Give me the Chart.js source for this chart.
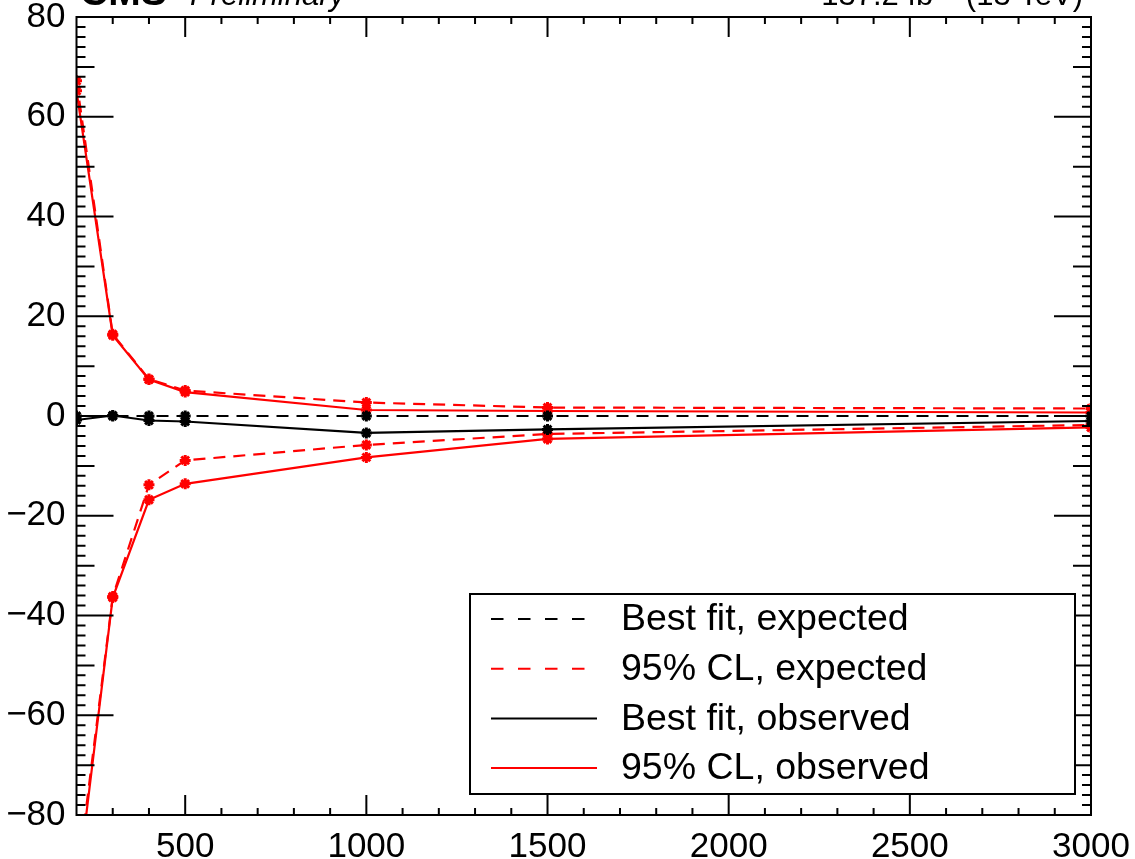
<!DOCTYPE html>
<html>
<head>
<meta charset="utf-8">
<script src="https://cdn.jsdelivr.net/npm/chart.js@4.4.1/dist/chart.umd.min.js"></script>
<style>
  html, body { margin: 0; padding: 0; background: #fff; }
  #wrap { width: 1135px; height: 859px; }
</style>
</head>
<body>
<div id="wrap"><canvas id="limitChart"></canvas></div>
<script>
// mass points (x) and the curves
const masses = [200, 300, 400, 500, 1000, 1500, 3000];
const bestFitExp = [0, 0, 0, 0, 0, 0, 0];
const clExpUp = [67.2, 16.4, 7.4, 5.1, 2.7, 1.7, 1.5];
const clExpDown = [-94, -36.2, -13.8, -8.9, -5.8, -3.6, -1.8];
const bestFitObs = [-0.8, 0.1, -0.9, -1.1, -3.4, -2.7, -1.0];
const clObsUp = [65.2, 16.2, 7.3, 4.8, 1.2, 1.0, 0.7];
const clObsDown = [-96, -36.4, -16.8, -13.6, -8.3, -4.6, -2.3];

const xTicks = [500, 1000, 1500, 2000, 2500, 3000];
const yTicks = [-80, -60, -40, -20, 0, 20, 40, 60, 80];

const FONT = '"Liberation Sans", Arial, sans-serif';
const DASH = [12, 8];
const LEGEND_DASH = [12.5, 14.5];

function pts(ys) {
  return masses.map((m, i) => ({ x: m, y: ys[i] }));
}

function series(label, ys, color, dashed, inLegend) {
  return {
    label: label,
    data: pts(ys),
    borderColor: color,
    backgroundColor: color,
    borderWidth: 2.2,
    borderDash: dashed ? DASH : [],
    pointStyle: 'star',
    pointRadius: 5.5,
    pointBorderWidth: 3,
    pointBorderColor: color,
    tension: 0,
    fill: false,
    inLegend: inLegend
  };
}

// frame + ROOT style inward ticks on all four sides
const frameTicks = {
  id: 'frameTicks',
  afterDatasetsDraw(chart) {
    const { ctx, chartArea: a, scales: { x, y } } = chart;
    ctx.save();
    ctx.strokeStyle = '#000';
    ctx.lineWidth = 2;
    ctx.beginPath();
    for (let v = 300; v < 3000; v += 100) {
      const px = x.getPixelForValue(v);
      const len = v % 500 === 0 ? 20 : 7;
      ctx.moveTo(px, a.bottom); ctx.lineTo(px, a.bottom - len);
      ctx.moveTo(px, a.top); ctx.lineTo(px, a.top + len);
    }
    for (let v = -78; v < 80; v += 2) {
      const py = y.getPixelForValue(v);
      const len = v % 20 === 0 ? 37 : (v % 10 === 0 ? 18 : 9);
      ctx.moveTo(a.left, py); ctx.lineTo(a.left + len, py);
      ctx.moveTo(a.right, py); ctx.lineTo(a.right - len, py);
    }
    ctx.stroke();
    ctx.strokeRect(a.left, a.top, a.width, a.height);
    ctx.restore();
  }
};

// legend box in the lower right
const boxLegend = {
  id: 'boxLegend',
  afterDraw(chart) {
    const ctx = chart.ctx;
    const rows = chart.data.datasets.filter(d => d.inLegend);
    ctx.save();
    ctx.fillStyle = '#fff';
    ctx.fillRect(470, 594, 605, 200);
    ctx.strokeStyle = '#000';
    ctx.lineWidth = 2;
    ctx.strokeRect(470, 594, 605, 200);
    rows.forEach((d, i) => {
      const ry = 619 + i * 49.7;
      ctx.strokeStyle = d.borderColor;
      ctx.lineWidth = 2;
      ctx.setLineDash(d.borderDash.length ? LEGEND_DASH : []);
      ctx.beginPath();
      ctx.moveTo(491, ry);
      ctx.lineTo(597, ry);
      ctx.stroke();
      ctx.setLineDash([]);
      ctx.fillStyle = '#000';
      ctx.font = '37.5px ' + FONT;
      ctx.textBaseline = 'middle';
      ctx.textAlign = 'left';
      ctx.fillText(d.label, 621, ry + 1);
    });
    ctx.restore();
  }
};

// CMS label and luminosity, cut off at the top edge
const headerText = {
  id: 'headerText',
  afterDraw(chart) {
    const ctx = chart.ctx;
    ctx.save();
    ctx.fillStyle = '#000';
    ctx.textBaseline = 'alphabetic';
    ctx.textAlign = 'left';
    ctx.font = 'bold 39px ' + FONT;
    ctx.fillText('CMS', 80, 5);
    ctx.font = 'italic 31px ' + FONT;
    ctx.fillText('Preliminary', 190, 5);
    // 137.2 fb^-1 (13 TeV), right aligned to the frame
    const partA = '137.2 fb';
    const partC = ' (13 TeV)';
    ctx.font = '31px ' + FONT;
    const wA = ctx.measureText(partA).width;
    const wC = ctx.measureText(partC).width;
    ctx.font = '21px ' + FONT;
    const wB = ctx.measureText('\u22121').width;
    const x0 = 1083 - (wA + wB + wC);
    ctx.font = '31px ' + FONT;
    ctx.fillText(partA, x0, 5);
    ctx.font = '21px ' + FONT;
    ctx.fillText('\u22121', x0 + wA, -7);
    ctx.font = '31px ' + FONT;
    ctx.fillText(partC, x0 + wA + wB, 5);
    ctx.restore();
  }
};

const ctx = document.getElementById('limitChart').getContext('2d');

new Chart(ctx, {
  type: 'line',
  data: {
    datasets: [
      series('Best fit, expected', bestFitExp, '#000000', true, true),
      series('95% CL, expected', clExpUp, '#ff0000', true, true),
      series('Best fit, observed', bestFitObs, '#000000', false, true),
      series('95% CL, observed', clObsUp, '#ff0000', false, true),
      series('95% CL, expected', clExpDown, '#ff0000', true, false),
      series('95% CL, observed', clObsDown, '#ff0000', false, false)
    ]
  },
  options: {
    animation: false,
    responsive: true,
    maintainAspectRatio: false,
    layout: { padding: { top: 17, right: 44, left: 0, bottom: 0 } },
    plugins: {
      legend: { display: false },
      tooltip: { enabled: false }
    },
    scales: {
      x: {
        type: 'linear',
        min: 200,
        max: 3000,
        afterBuildTicks: s => { s.ticks = xTicks.map(v => ({ value: v })); },
        afterFit: s => {
          s.height = 44;
          s.paddingLeft = 0;
          s.paddingRight = 0;
        },
        grid: { display: false, drawTicks: false },
        border: { display: false },
        ticks: {
          color: '#000',
          font: { family: FONT, size: 35 },
          padding: 11,
          maxRotation: 0,
          autoSkip: false,
          callback: v => String(v)
        }
      },
      y: {
        min: -80,
        max: 80,
        afterBuildTicks: s => { s.ticks = yTicks.map(v => ({ value: v })); },
        afterFit: s => {
          s.width = 76.5;
          s.paddingTop = 0;
          s.paddingBottom = 0;
        },
        grid: { display: false, drawTicks: false },
        border: { display: false },
        ticks: {
          color: '#000',
          font: { family: FONT, size: 35 },
          padding: 11,
          autoSkip: false,
          callback: v => String(v).replace('-', '\u2212')
        }
      }
    }
  },
  plugins: [frameTicks, boxLegend, headerText]
});
</script>
</body>
</html>
